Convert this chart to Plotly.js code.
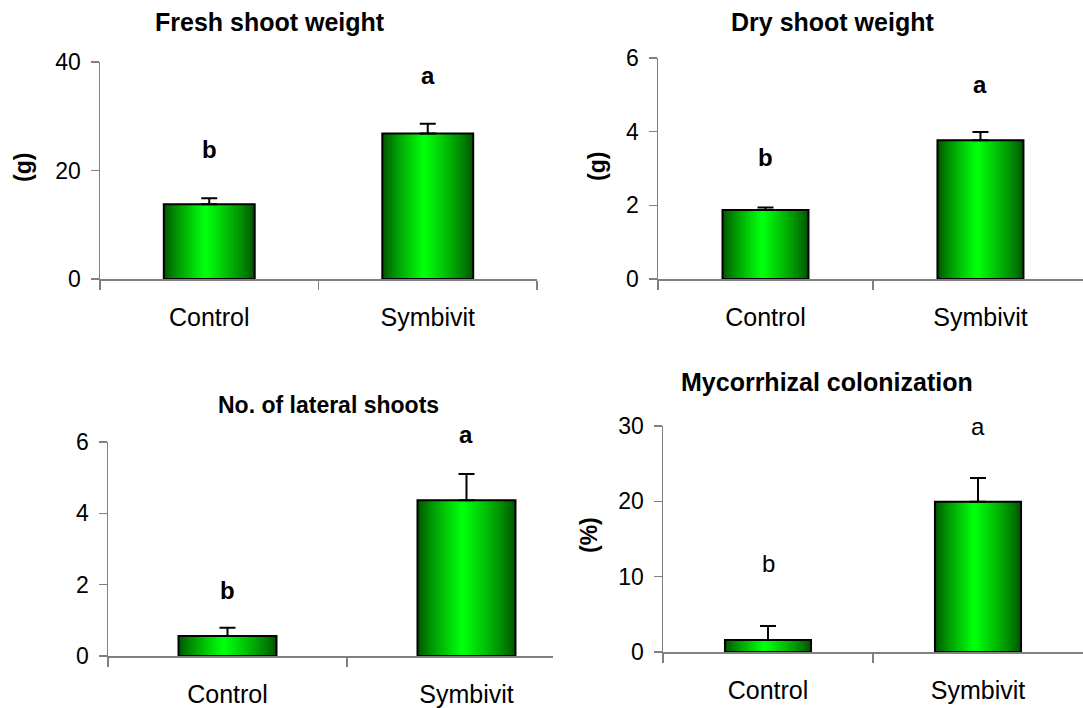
<!DOCTYPE html>
<html>
<head>
<meta charset="utf-8">
<script src="https://cdn.plot.ly/plotly-3.0.1.min.js"></script>
<style>
  html, body { margin: 0; padding: 0; background: #fff; }
  #chart { width: 1083px; height: 708px; }
</style>
</head>
<body>
<div id="chart"></div>
<script>
// ---- data ----
const categories = ['Control', 'Symbivit'];

const freshTitle = 'Fresh shoot weight';
const freshValues = [13.8, 26.8];
const freshErrors = [1.1, 1.8];
const freshLetters = ['b', 'a'];
const freshTicks = [0, 20, 40];

const dryTitle = 'Dry shoot weight';
const dryValues = [1.87, 3.77];
const dryErrors = [0.07, 0.22];
const dryLetters = ['b', 'a'];
const dryTicks = [0, 2, 4, 6];

const lateralTitle = 'No. of lateral shoots';
const lateralValues = [0.56, 4.37];
const lateralErrors = [0.23, 0.73];
const lateralLetters = ['b', 'a'];
const lateralTicks = [0, 2, 4, 6];

const colonTitle = 'Mycorrhizal colonization';
const colonValues = [1.6, 19.95];
const colonErrors = [1.85, 3.15];
const colonLetters = ['b', 'a'];
const colonTicks = [0, 10, 20, 30];

// ---- layout helpers ----
const W = 1083, H = 708;
const FONT = 'Liberation Sans, Arial, Helvetica, sans-serif';
const px = v => v / W;
const py = v => 1 - v / H;

const panels = [
  { xa: 'x',  ya: 'y',  title: freshTitle, values: freshValues, errors: freshErrors, letters: freshLetters, ticks: freshTicks,
    xdom: [100, 537], ydom: [279, 62], xrange: [-0.5, 1.5], barW: 0.416,
    letterPos: [23.8, 37.6], letterBold: true, titlePos: [270, 22], titleSize: 25, yTitle: '(g)', yTitlePos: [23, 168] },
  { xa: 'x2', ya: 'y2', title: dryTitle, values: dryValues, errors: dryErrors, letters: dryLetters, ticks: dryTicks,
    xdom: [658, 1083], ydom: [279, 58], xrange: [-0.5, 1.477], barW: 0.40,
    letterPos: [3.29, 5.27], letterBold: true, titlePos: [832, 22], titleSize: 25, yTitle: '(g)', yTitlePos: [597, 167] },
  { xa: 'x3', ya: 'y3', title: lateralTitle, values: lateralValues, errors: lateralErrors, letters: lateralLetters, ticks: lateralTicks,
    xdom: [108, 553], ydom: [656, 442], xrange: [-0.5, 1.362], barW: 0.41,
    letterPos: [1.85, 6.22], letterBold: true, titlePos: [328, 405], titleSize: 23, yTitle: null },
  { xa: 'x4', ya: 'y4', title: colonTitle, values: colonValues, errors: colonErrors, letters: colonLetters, ticks: colonTicks,
    xdom: [663, 1083], ydom: [652, 426], xrange: [-0.5, 1.5], barW: 0.41,
    letterPos: [11.7, 29.9], letterBold: false, titlePos: [827, 382], titleSize: 25, yTitle: '(%)', yTitlePos: [589, 535] }
];

const N = 18; // gradient layers
const traces = [];
const annotations = [];
const layout = {
  width: W, height: H,
  margin: { l: 0, r: 0, t: 0, b: 0 },
  paper_bgcolor: '#fff', plot_bgcolor: '#fff',
  barmode: 'overlay',
  showlegend: false,
  font: { family: FONT, color: '#000' },
  annotations: annotations
};

function gradColor(t) {
  // t: 0 at bar edge, 1 at bar centre
  const g = Math.round(88 + 167 * Math.pow(t, 0.85));
  const b = Math.round(10 * t);
  return `rgb(0,${g},${b})`;
}

panels.forEach((p, k) => {
  const suffix = k === 0 ? '' : String(k + 1);
  const ymax = p.ticks[p.ticks.length - 1];
  const c = -0.04 * p.barW; // brightest line slightly left of centre
  for (let i = 0; i < N; i++) {
    const s = i / N;
    const left = -p.barW / 2 + s * (p.barW / 2 + c);
    const right = p.barW / 2 - s * (p.barW / 2 - c);
    traces.push({
      type: 'bar', x: categories, y: p.values,
      xaxis: p.xa, yaxis: p.ya,
      width: right - left, offset: left,
      marker: { color: gradColor(i / (N - 1)), line: { width: 0 } },
      hoverinfo: 'skip'
    });
  }
  // outline + error bars
  traces.push({
    type: 'bar', x: categories, y: p.values,
    xaxis: p.xa, yaxis: p.ya,
    width: p.barW,
    marker: { color: 'rgba(0,0,0,0)', line: { width: 2, color: '#000' } },
    error_y: { type: 'data', symmetric: false, array: p.errors, arrayminus: p.errors.map(() => 0),
               color: '#000', thickness: 2, width: 8 },
    hoverinfo: 'x+y'
  });

  layout['xaxis' + suffix] = {
    domain: [px(p.xdom[0]), px(p.xdom[1])], anchor: 'y' + suffix,
    type: 'category', range: p.xrange, tickson: 'boundaries',
    ticks: 'outside', ticklen: 9, tickwidth: 1.5, tickcolor: '#808080',
    showline: true, linecolor: '#808080', linewidth: 1.5,
    showgrid: false, zeroline: false,
    tickfont: { family: FONT, size: 25, color: '#000' },
    ticklabelstandoff: 15, fixedrange: true
  };
  layout['yaxis' + suffix] = {
    domain: [py(p.ydom[0]), py(p.ydom[1])], anchor: 'x' + suffix,
    range: [0, ymax], tickvals: p.ticks,
    ticks: 'outside', ticklen: 8, tickwidth: 1.5, tickcolor: '#808080',
    showline: true, linecolor: '#808080', linewidth: 1.5,
    showgrid: false, zeroline: false,
    tickfont: { family: FONT, size: 23, color: '#000' },
    ticklabelstandoff: 5, fixedrange: true
  };

  // panel title
  annotations.push({
    xref: 'paper', yref: 'paper', x: px(p.titlePos[0]), y: py(p.titlePos[1]),
    xanchor: 'center', yanchor: 'middle', showarrow: false,
    text: '<b>' + p.title + '</b>', font: { family: FONT, size: p.titleSize, color: '#000' }
  });
  // y axis title
  if (p.yTitle) {
    annotations.push({
      xref: 'paper', yref: 'paper', x: px(p.yTitlePos[0]), y: py(p.yTitlePos[1]),
      xanchor: 'center', yanchor: 'middle', showarrow: false, textangle: -90,
      text: '<b>' + p.yTitle + '</b>', font: { family: FONT, size: 23, color: '#000' }
    });
  }
  // significance letters
  p.letters.forEach((L, j) => {
    annotations.push({
      xref: p.xa, yref: p.ya + ' domain', x: categories[j], y: p.letterPos[j] / ymax,
      xanchor: 'center', yanchor: 'middle', showarrow: false,
      text: p.letterBold ? '<b>' + L + '</b>' : L,
      font: { family: FONT, size: 24, color: '#000' }
    });
  });
});

Plotly.newPlot('chart', traces, layout, { staticPlot: true, displayModeBar: false });
</script>
</body>
</html>
